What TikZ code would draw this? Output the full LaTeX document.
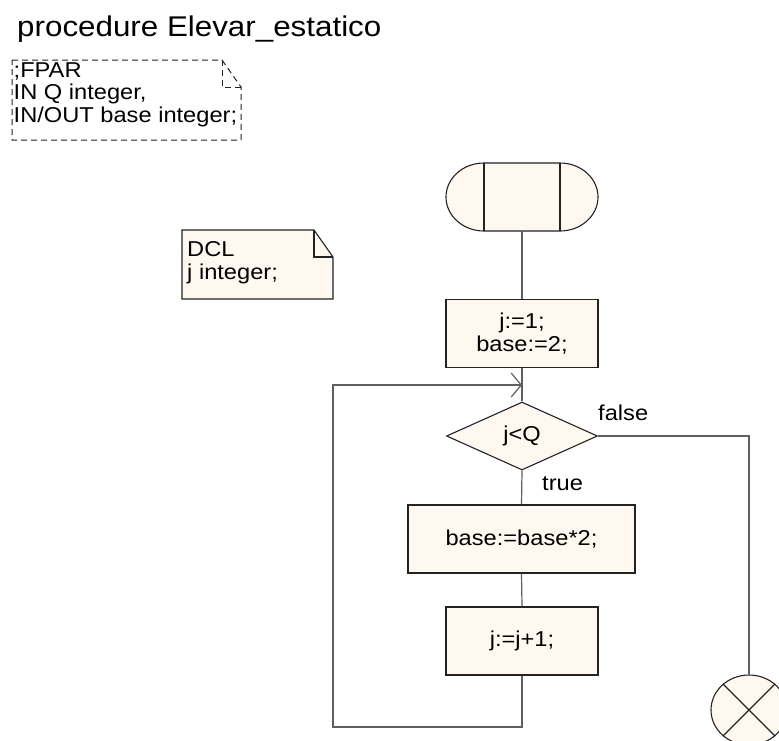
\documentclass[tikz,border=0pt]{standalone}
\usepackage{fontspec}
\setmainfont{Liberation Sans}[FakeStretch=1.1]
\usetikzlibrary{shapes.geometric,arrows.meta}

\definecolor{boxfill}{RGB}{255,248,240}
\definecolor{edgecol}{RGB}{35,35,35}
\definecolor{wirecol}{RGB}{95,95,95}

\begin{document}
\begin{tikzpicture}[x=1pt,y=-1pt,
  every node/.style={font=\fontsize{21.5}{22.5}\selectfont, inner sep=0pt, text=black},
  outline/.style={draw=edgecol, line width=1.1pt, fill=boxfill},
  taskbox/.style={outline, rectangle, minimum height=68pt, align=center},
  wire/.style={draw=wirecol, line width=1.2pt},
  lbl/.style={anchor=base west},
  notetext/.style={anchor=north west, align=left},
  loopback/.style={wire, -{Straight Barb[length=10pt,width=24pt]}}
]
\useasboundingbox (0,0) rectangle (779,740);
\fill[white] (0,0) rectangle (779,740);

% heading
\node[lbl, font=\fontsize{28.5}{32}\selectfont] (title) at (17,36) {procedure Elevar\_estatico};

% formal parameters (dashed note)
\draw[draw=edgecol, line width=1pt, dash pattern=on 6pt off 4pt]
  (12,60) -- (222,60) -- (241,87) -- (241,140) -- (12,140) -- cycle;
\draw[draw=edgecol, line width=1pt, dash pattern=on 6pt off 4pt]
  (222,60) -- (222,87) -- (241,87);
\node[notetext] (fpar) at (13.5,62.5) {;FPAR\\IN Q integer,\\IN/OUT base integer;};

% declarations note
\draw[outline] (182,230) -- (314,230) -- (333,257) -- (333,299) -- (182,299) -- cycle;
\draw[draw=edgecol, line width=1.1pt] (314,230) -- (314,257) -- (333,257);
\node[notetext] (dcl) at (187,241.5) {DCL\\j integer;};

% start symbol
\node[minimum width=152pt, minimum height=68pt] (start) at (522,197) {};
\draw[outline] (484,163) -- (560,163)
  arc[start angle=-90, end angle=90, x radius=38, y radius=34]
  -- (484,231)
  arc[start angle=90, end angle=270, x radius=38, y radius=34] -- cycle;
\draw[draw=edgecol, line width=1.1pt] (484,163) -- (484,231) (560,163) -- (560,231);

% tasks and decision
\node[taskbox, minimum width=152pt] (init) at (522,333.5) {j:=1;\\base:=2;};
\node[outline, diamond, aspect=2.2, minimum width=151pt, minimum height=68pt] (cond) at (522,436) {j<Q};
\node[taskbox, minimum width=227pt] (dbl) at (521.5,539) {base:=base*2;};
\node[taskbox, minimum width=152pt] (inc) at (522,641) {j:=j+1;};

% stop symbol
\node[outline, ellipse, minimum width=76pt, minimum height=70pt] (stop) at (749,710) {};
\draw[draw=edgecol, line width=1.1pt] (stop.45) -- (stop.225) (stop.135) -- (stop.315);

% connectors
\coordinate (merge) at (522,385);
\coordinate (loopcorner) at (333,727);
\draw[wire] (start.south) -- (init.north);
\draw[wire] (init.south) -- (cond.north);
\draw[wire] (cond.south) -- (dbl.north);
\draw[wire] (dbl.south) -- (inc.north);
\draw[loopback] (inc.south) |- (loopcorner) |- (merge);
\draw[wire] (cond.east) -| (stop.north);

% branch labels
\node[lbl] (falselbl) at (598,420) {false};
\node[lbl] (truelbl) at (542,490) {true};
\end{tikzpicture}
\end{document}
